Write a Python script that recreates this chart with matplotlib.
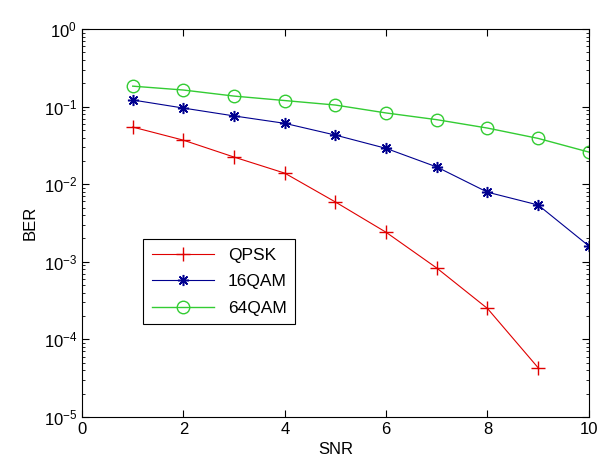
# BER vs SNR for QPSK, 16QAM and 64QAM

import matplotlib
matplotlib.use('Agg')
import matplotlib.pyplot as plt

plt.rcParams['font.family'] = ['Liberation Sans', 'DejaVu Sans']
plt.rcParams['mathtext.fontset'] = 'custom'
plt.rcParams['mathtext.rm'] = 'Liberation Sans'

snr_qpsk = [1, 2, 3, 4, 5, 6, 7, 8, 9]
ber_qpsk = [0.0546, 0.037, 0.0224, 0.0139, 0.0059, 0.0024, 0.00083, 0.00025, 0.000043]

snr_qam = [1, 2, 3, 4, 5, 6, 7, 8, 9, 10]
ber_16qam = [0.122, 0.096, 0.076, 0.061, 0.043, 0.029, 0.0167, 0.0079, 0.0054, 0.0016]
ber_64qam = [0.184, 0.164, 0.137, 0.12, 0.105, 0.083, 0.068, 0.053, 0.039, 0.026]

fig = plt.figure(figsize=(5.99, 4.70), dpi=100)
ax = fig.add_axes([0.137, 0.113, 0.846, 0.825])

ax.semilogy(snr_qpsk, ber_qpsk, '-+', color='#e00000', lw=0.8, ms=10, mew=1.0, label='QPSK')
ax.semilogy(snr_qam, ber_16qam, '-', marker=(8, 2, 0), color='#00008f', lw=0.8, ms=8, mew=1.1, label='16QAM')
ax.semilogy(snr_qam, ber_64qam, '-o', color='#33cc33', lw=1.0, ms=9, mfc='none', mew=1.0, label='64QAM')

ax.set_xlim(0, 10)
ax.set_ylim(1e-5, 1)
ax.set_xticks([0, 2, 4, 6, 8, 10])
ax.set_yticks([1e-5, 1e-4, 1e-3, 1e-2, 1e-1, 1])
ax.tick_params(which='both', direction='in', top=True, right=True, labelsize=12)
ax.tick_params(which='major', length=5)
ax.tick_params(which='minor', length=2.5)
ax.set_xlabel('SNR', fontsize=12)
ax.set_ylabel('BER', fontsize=12)
for s in ax.spines.values():
    s.set_linewidth(0.8)

leg = ax.legend(loc='upper left', bbox_to_anchor=(0.12, 0.459), fontsize=12.5,
                fancybox=False, edgecolor='black', framealpha=1, borderaxespad=0,
                handlelength=3.6, borderpad=0.5, labelspacing=0.65)
leg.get_frame().set_linewidth(0.8)

plt.savefig('out.png', dpi=100)
